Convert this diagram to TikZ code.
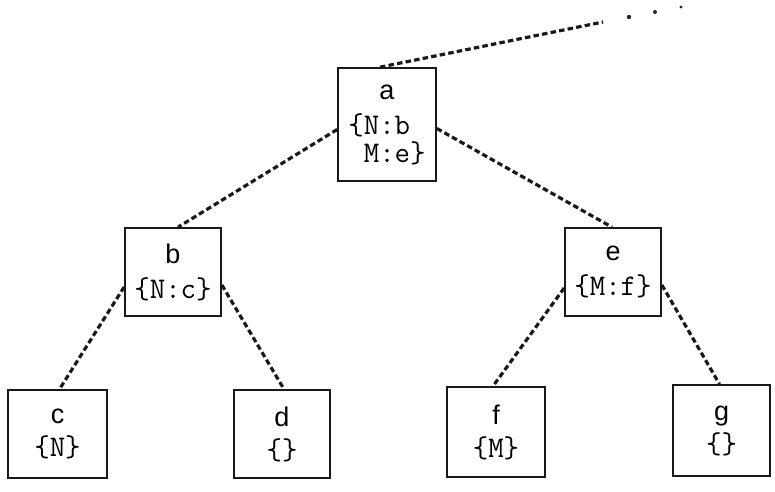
\documentclass[tikz,border=0pt]{standalone}
\usepackage{fontspec}
\newfontfamily\lsans{Liberation Sans}
\usetikzlibrary{calc}
\begin{document}
\begin{tikzpicture}[x=1pt,y=-1pt,
  treebox/.style={draw=black!90, line width=1.7pt, align=center, inner sep=0pt,
    font=\fontsize{27}{28}\selectfont},
  link/.style={line width=3.2pt, dash pattern=on 5.5pt off 3.2pt, black!90},
  dotmark/.style={fill=black!85, draw=none}]
\useasboundingbox (0,0) rectangle (775,491);
\newcommand{\lab}[1]{{\lsans #1}}
\newcommand{\mono}[1]{{\ttfamily\fontsize{30}{27}\selectfont #1}}
\node[treebox, minimum width=98pt, minimum height=113pt] (a) at (387,124.5)
  {\lab{a}\\[7pt]\mono{\{N:b\hphantom{\}}}\\\mono{\hphantom{\{}M:e\}}};
\node[treebox, minimum width=96pt, minimum height=88pt] (b) at (173,272)
  {\lab{b}\\[7pt]\mono{\{N:c\}}};
\node[treebox, minimum width=96pt, minimum height=88pt] (e) at (613,272)
  {\lab{e}\\[7pt]\mono{\{M:f\}}};
\node[treebox, minimum width=99pt, minimum height=88pt] (c) at (57.5,434)
  {\lab{c}\\[5pt]\mono{\{N\}}};
\node[treebox, minimum width=96pt, minimum height=88pt] (d) at (282,434)
  {\lab{d}\\[5pt]\mono{\{\}}};
\node[treebox, minimum width=98pt, minimum height=90pt] (f) at (496,432)
  {\lab{f}\\[5pt]\mono{\{M\}}};
\node[treebox, minimum width=97pt, minimum height=91pt] (g) at (721.5,430.5)
  {\lab{g}\\[5pt]\mono{\{\}}};
\coordinate (topend) at (603,22);
\draw[link] ($(a.north)+(-7,0)$) -- (topend);
\fill[dotmark] (629,17) circle (2.2pt);
\fill[dotmark] (655,12) circle (2.0pt);
\fill[dotmark] (681,7) circle (1.6pt);
\draw[link] ($(a.west)+(0,5)$) -- ($(b.north)+(5,0)$);
\draw[link] ($(a.east)+(0,4)$) -- ($(e.north)+(-1,0)$);
\draw[link] ($(b.west)+(0,15)$) -- ($(c.north)+(2,0)$);
\draw[link] ($(b.east)+(0,13)$) -- ($(d.north)+(2,0)$);
\draw[link] ($(e.west)+(0,16)$) -- ($(f.north)+(-3,0)$);
\draw[link] ($(e.east)+(0,13)$) -- ($(g.north)+(-2,0)$);
\end{tikzpicture}
\end{document}
